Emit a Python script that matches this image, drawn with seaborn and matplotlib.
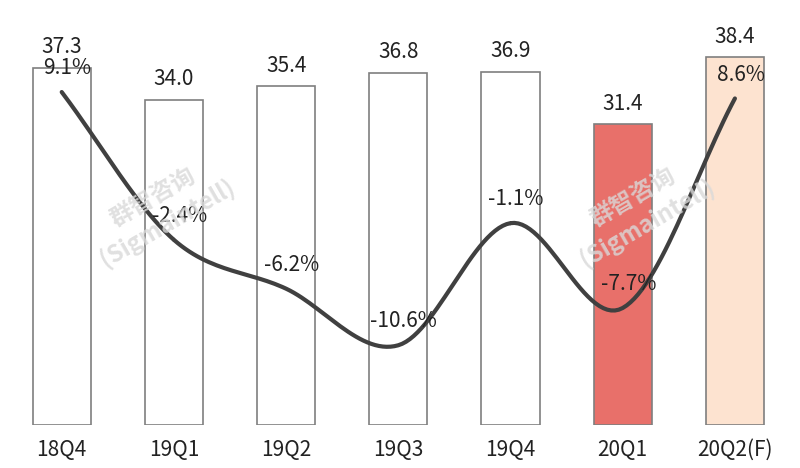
import numpy as np
import matplotlib
matplotlib.use('Agg')
import matplotlib.pyplot as plt
import seaborn as sns

quarters = ['18Q4', '19Q1', '19Q2', '19Q3', '19Q4', '20Q1', '20Q2(F)']
shipments = [37.3, 34.0, 35.4, 36.8, 36.9, 31.4, 38.4]
growth = [9.1, -2.4, -6.2, -10.6, -1.1, -7.7, 8.6]
bar_colors = ['white'] * 5 + ['#e8706a', '#fde3d0']

sns.set_theme(style='white')
plt.rcParams['font.family'] = ['Noto Sans CJK SC', 'DejaVu Sans']

fig = plt.figure(figsize=(8, 4.68), dpi=100)
ax = fig.add_axes([0, 0.092, 1, 0.908])
x = np.arange(len(quarters))
sns.barplot(x=x, y=shipments, palette=bar_colors, hue=x, legend=False, saturation=1,
            edgecolor='#7f7f7f', linewidth=1.2, width=0.52, ax=ax)
ax.set_xlim(-0.55, 6.58)
ax.set_ylim(0, 44.4)
for xi, v in zip(x, shipments):
    ax.text(xi, v + 1.0, f'{v:.1f}', ha='center', va='bottom', fontsize=15, color='#222')
ax.set_yticks([])
ax.set_xticks(x)
ax.set_xticklabels(quarters, fontsize=15, color='#222')
ax.tick_params(axis='x', length=0, pad=10)
for s in ['top', 'left', 'right', 'bottom']:
    ax.spines[s].set_visible(False)

ax2 = ax.twinx()
ax2.set_ylim(-16.8, 16.26)
ax2.axis('off')
# Catmull-Rom smoothing for drawing only
pts = np.column_stack([x, growth]).astype(float)
ext = np.vstack([2 * pts[0] - pts[1], pts, 2 * pts[-1] - pts[-2]])
curve = []
for i in range(1, len(ext) - 2):
    p0, p1, p2, p3 = ext[i - 1], ext[i], ext[i + 1], ext[i + 2]
    for t in np.linspace(0, 1, 30):
        curve.append(0.5 * ((2 * p1) + (-p0 + p2) * t + (2 * p0 - 5 * p1 + 4 * p2 - p3) * t ** 2
                            + (-p0 + 3 * p1 - 3 * p2 + p3) * t ** 3))
curve = np.array(curve)
ax2.plot(curve[:, 0], curve[:, 1], color='#404040', lw=3)
for xi, g in zip(x, growth):
    ax2.text(xi + 0.05, g + 1.0, f'{g:.1f}%', ha='center', va='bottom', fontsize=15, color='#222')

for wx, wy in [(0.2, 0.55), (0.8, 0.55)]:
    fig.text(wx, wy, '群智咨询\n(Sigmaintell)', rotation=30, ha='center', va='center',
             fontsize=17, fontweight='bold', color='#d9d9d9', alpha=0.8, zorder=0)

fig.savefig('out.png', dpi=100)
